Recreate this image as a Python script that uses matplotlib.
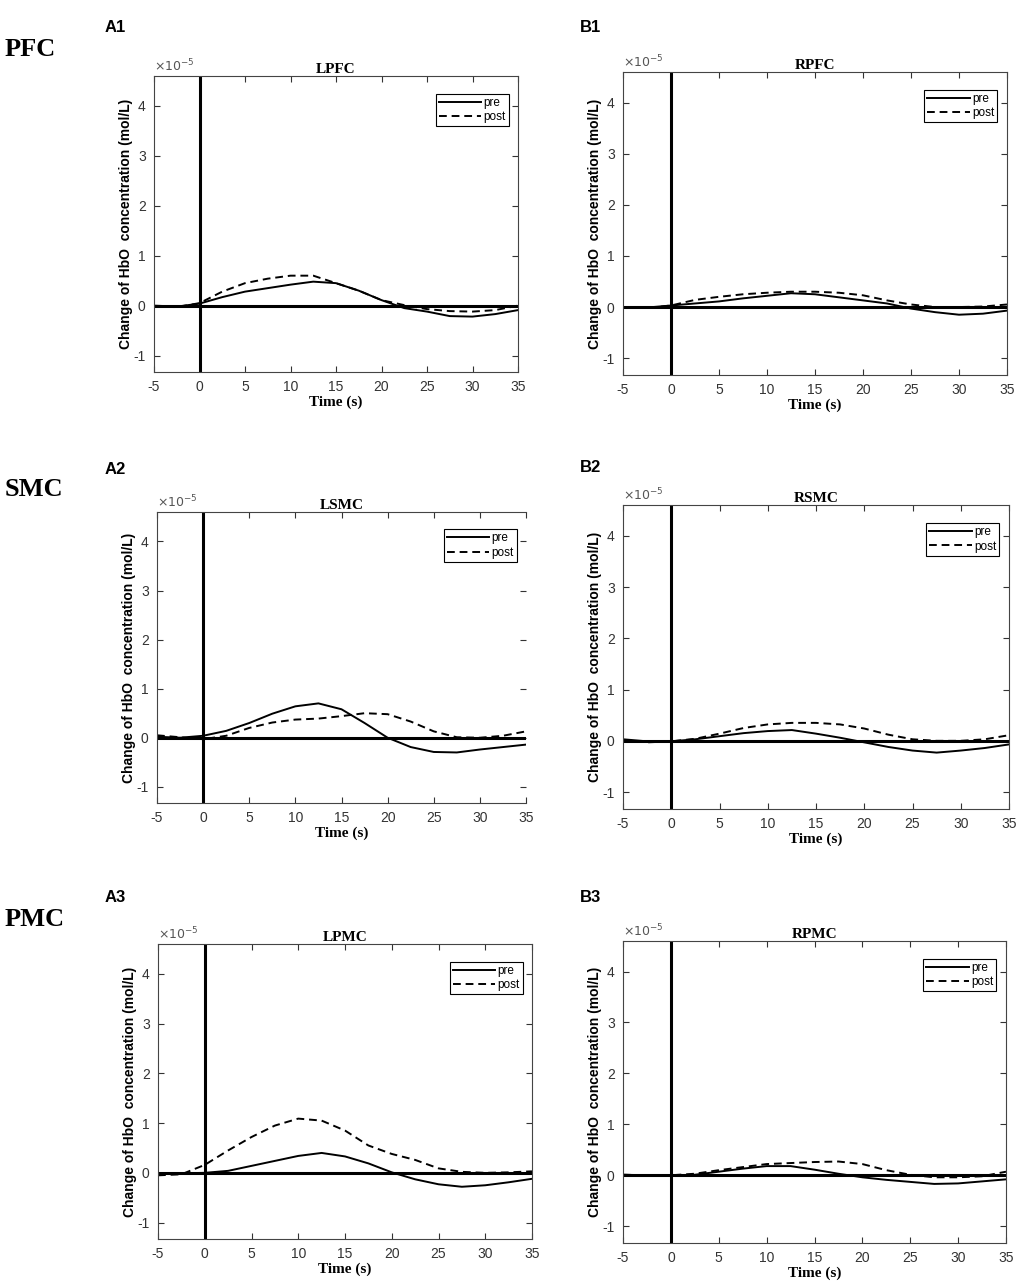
import numpy as np
import matplotlib
matplotlib.use('Agg')
import matplotlib.pyplot as plt

plt.rcParams['axes.unicode_minus'] = False

# time axis (s) and HbO change (x1e-5 mol/L)
t = [-5, -2.5, 0, 2.5, 5, 7.5, 10, 12.5, 15, 17.5, 20, 22.5, 25, 27.5, 30, 32.5, 35]

lpfc_pre  = [0.0, -0.02, 0.04, 0.17, 0.28, 0.35, 0.42, 0.48, 0.45, 0.30, 0.11, -0.05, -0.12, -0.21, -0.22, -0.17, -0.09]
lpfc_post = [-0.02, -0.03, 0.05, 0.28, 0.45, 0.54, 0.60, 0.60, 0.45, 0.30, 0.11, 0.01, -0.07, -0.11, -0.12, -0.09, 0.0]

lsmc_pre  = [0.02, 0.0, 0.04, 0.14, 0.30, 0.49, 0.64, 0.70, 0.58, 0.30, 0.0, -0.19, -0.29, -0.30, -0.24, -0.19, -0.14]
lsmc_post = [0.05, 0.01, -0.03, 0.04, 0.20, 0.31, 0.37, 0.39, 0.44, 0.50, 0.48, 0.33, 0.13, 0.01, 0.0, 0.04, 0.13]

lpmc_pre  = [-0.03, -0.01, 0.0, 0.04, 0.14, 0.24, 0.34, 0.40, 0.33, 0.19, 0.01, -0.13, -0.23, -0.28, -0.25, -0.19, -0.12]
lpmc_post = [-0.05, -0.03, 0.16, 0.45, 0.72, 0.95, 1.09, 1.05, 0.85, 0.55, 0.38, 0.26, 0.09, 0.02, 0.0, 0.01, 0.03]

rpfc_pre  = [0.0, -0.01, 0.03, 0.07, 0.11, 0.17, 0.22, 0.27, 0.25, 0.19, 0.13, 0.07, -0.03, -0.10, -0.15, -0.13, -0.07]
rpfc_post = [0.0, -0.02, 0.03, 0.14, 0.20, 0.25, 0.28, 0.30, 0.30, 0.28, 0.23, 0.13, 0.05, 0.0, 0.0, 0.01, 0.05]

rsmc_pre  = [0.03, -0.01, -0.01, 0.03, 0.09, 0.15, 0.19, 0.21, 0.14, 0.06, -0.03, -0.12, -0.19, -0.23, -0.19, -0.14, -0.07]
rsmc_post = [0.01, -0.03, -0.01, 0.04, 0.14, 0.25, 0.32, 0.35, 0.35, 0.32, 0.24, 0.12, 0.03, 0.0, 0.0, 0.03, 0.11]

rpmc_pre  = [0.01, 0.0, 0.0, 0.01, 0.07, 0.13, 0.18, 0.18, 0.11, 0.03, -0.04, -0.09, -0.13, -0.17, -0.16, -0.12, -0.08]
rpmc_post = [0.01, 0.0, 0.0, 0.03, 0.10, 0.16, 0.22, 0.24, 0.26, 0.27, 0.22, 0.10, 0.01, -0.04, -0.04, -0.02, 0.07]

titles = ['LPFC', 'RPFC', 'LSMC', 'RSMC', 'LPMC', 'RPMC']
panel_labels = ['A1', 'B1', 'A2', 'B2', 'A3', 'B3']
regions = ['PFC', 'SMC', 'PMC']
pre_data = [lpfc_pre, rpfc_pre, lsmc_pre, rsmc_pre, lpmc_pre, rpmc_pre]
post_data = [lpfc_post, rpfc_post, lsmc_post, rsmc_post, lpmc_post, rpmc_post]

W, H = 1021, 1288
fig = plt.figure(figsize=(W/100, H/100), dpi=100)

# axes boxes in pixels: left, top, right, bottom
boxes = [(154, 76, 518, 372), (623, 72, 1007, 375),
         (157, 512, 526, 803), (623, 505, 1009, 809),
         (158, 944, 532, 1239), (623, 941, 1006, 1243)]
label_pos = [(105, 28), (580, 28), (105, 470), (580, 468), (105, 897), (580, 897)]
region_pos = [(5, 50), (5, 490), (5, 920)]

sans = 'Liberation Sans'
serif = 'Liberation Serif'
grey = '#333333'

for i, (l, tp, r, b) in enumerate(boxes):
    ax = fig.add_axes([l/W, 1 - b/H, (r-l)/W, (b-tp)/H])
    ax.plot(t, pre_data[i], color='black', lw=1.4, ls='-', label='pre')
    ax.plot(t, post_data[i], color='black', lw=1.4, ls=(0, (4, 2.5)), label='post')
    ax.axvline(0, color='black', lw=2.2)
    ax.axhline(0, color='black', lw=2.2)
    ax.set_xlim(-5, 35)
    ax.set_ylim(-1.33, 4.6)
    ax.set_xticks(range(-5, 36, 5))
    ax.set_yticks([-1, 0, 1, 2, 3, 4])
    ax.tick_params(direction='in', top=True, right=True, length=4, width=0.8,
                   colors=grey, labelsize=10, pad=6)
    for lab in ax.get_xticklabels() + ax.get_yticklabels():
        lab.set_fontfamily(sans)
    for s in ax.spines.values():
        s.set_color('#444444')
        s.set_linewidth(0.8)
    if i == 2:
        ax.spines['right'].set_visible(False)
    ax.set_title(titles[i], fontfamily=serif, fontweight='bold', fontsize=11, pad=2)
    ax.set_xlabel('Time (s)', fontfamily=serif, fontweight='bold', fontsize=11, labelpad=1)
    ax.set_ylabel('Change of HbO  concentration (mol/L)', fontfamily=sans,
                  fontweight='bold', fontsize=10, labelpad=0)
    ax.text(0, 1.005, r'$\times10^{-5}$', transform=ax.transAxes, ha='left', va='bottom',
            fontsize=9, color='#555555')
    leg = ax.legend(loc='upper right', bbox_to_anchor=(0.975, 0.94), fontsize=8.5,
                    handlelength=3.6, fancybox=False, framealpha=1, edgecolor='black',
                    borderaxespad=0, borderpad=0.25, labelspacing=0.2, handletextpad=0.2)
    leg.get_frame().set_linewidth(0.8)
    for txt in leg.get_texts():
        txt.set_fontfamily(sans)
    px, py = label_pos[i]
    fig.text(px/W, 1 - py/H, panel_labels[i], fontfamily=sans, fontweight='bold',
             fontsize=12, va='center', ha='left')

for j, name in enumerate(regions):
    px, py = region_pos[j]
    fig.text(px/W, 1 - py/H, name, fontfamily=serif, fontweight='bold',
             fontsize=19, va='center', ha='left')

fig.savefig('out.png', dpi=100)
